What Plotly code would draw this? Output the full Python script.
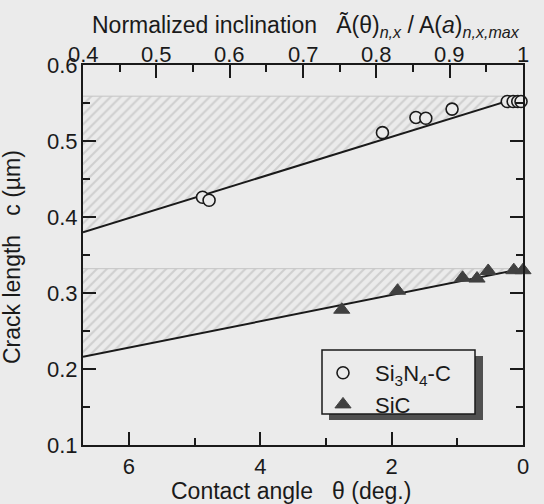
import plotly.graph_objects as go

# Si3N4-C: contact angle (deg.) and crack length (µm)
theta_si3n4 = [4.88, 4.78, 2.14, 1.63, 1.48, 1.08, 0.24, 0.15, 0.08, 0.03]
c_si3n4 = [0.426, 0.422, 0.511, 0.531, 0.530, 0.542, 0.552, 0.552, 0.552, 0.552]

# SiC: contact angle (deg.) and crack length (µm)
theta_sic = [2.76, 1.91, 0.92, 0.70, 0.53, 0.14, 0.0]
c_sic = [0.278, 0.303, 0.320, 0.319, 0.329, 0.330, 0.330]

# linear fits evaluated at both ends of the angle axis
fit_theta = [6.7, 0.0]
fit_si3n4 = [0.380, 0.559]
fit_sic = [0.216, 0.332]

theta_ticks = [6, 4, 2, 0]
theta_labels = ["6", "4", "2", "0"]
incl_ticks = [0.4, 0.5, 0.6, 0.7, 0.8, 0.9, 1.0]
incl_labels = ["0.4", "0.5", "0.6", "0.7", "0.8", "0.9", "1"]
c_ticks = [0.1, 0.2, 0.3, 0.4, 0.5, 0.6]
c_labels = ["0.1", "0.2", "0.3", "0.4", "0.5", "0.6"]

BG = "#ebebeb"
INK = "#1a1a1a"
FONT = "Liberation Sans, Arial, sans-serif"

W, H = 544, 504
ML, MR, MT, MB = 83, 21, 65, 59
PW, PH = W - ML - MR, H - MT - MB


def px_x(p):
    return (p - ML) / PW


def px_y(p):
    return (H - MB - p) / PH


fig = go.Figure()

# hatched bands between each fit line and its value at zero angle
for fit_vals in (fit_sic, fit_si3n4):
    top = max(fit_vals)
    fig.add_trace(go.Scatter(
        x=fit_theta, y=[top, top], mode="lines",
        line=dict(color="#c4c4c4", width=1),
        showlegend=False, hoverinfo="skip"))
    fig.add_trace(go.Scatter(
        x=fit_theta, y=fit_vals, mode="lines",
        line=dict(color=INK, width=2),
        fill="tonexty", fillcolor=BG,
        fillpattern=dict(shape="/", fgcolor="#b3b3b3", bgcolor=BG,
                         size=7, solidity=0.3),
        showlegend=False, hoverinfo="skip"))

fig.add_trace(go.Scatter(
    x=theta_si3n4, y=c_si3n4, mode="markers",
    name="Si<sub>3</sub>N<sub>4</sub>-C",
    marker=dict(symbol="circle", size=12, color=BG,
                line=dict(color=INK, width=1.6)),
    cliponaxis=False))

fig.add_trace(go.Scatter(
    x=theta_sic, y=c_sic, mode="markers", name="SiC",
    marker=dict(symbol="triangle-up", size=14, color="#404040",
                line=dict(color="#404040", width=1)),
    cliponaxis=False))

# top axis carrier
fig.add_trace(go.Scatter(
    x=[incl_ticks[0], incl_ticks[-1]], y=[None, None], xaxis="x2",
    mode="lines", showlegend=False, hoverinfo="skip"))

tickfont = dict(family=FONT, size=22, color=INK)
common = dict(showline=True, linecolor=INK, linewidth=2, ticks="inside",
              tickcolor=INK, tickwidth=1.5, ticklen=13, showgrid=False,
              zeroline=False, tickfont=tickfont, automargin=False)

# top-axis tick labels, placed on the inclination scale
top_labels = [
    dict(text=lab, xref="x2", yref="paper", x=val, y=px_y(54),
         xanchor="center", yanchor="middle", showarrow=False, font=tickfont)
    for val, lab in zip(incl_ticks, incl_labels)
]

fig.update_layout(
    width=W, height=H,
    margin=dict(l=ML, r=MR, t=MT, b=MB),
    paper_bgcolor=BG, plot_bgcolor=BG,
    font=dict(family=FONT, color=INK),
    xaxis=dict(range=[6.7, 0], tickvals=theta_ticks, ticktext=theta_labels,
               minor=dict(dtick=1, tick0=0, ticks="inside", ticklen=7,
                          tickcolor=INK, tickwidth=1.5),
               ticklabelstandoff=1, **common),
    xaxis2=dict(range=[0.4, 1.0], overlaying="x", side="top",
                tickvals=incl_ticks, showticklabels=False,
                minor=dict(dtick=0.05, tick0=0.4, ticks="inside", ticklen=7,
                           tickcolor=INK, tickwidth=1.5),
                **common),
    yaxis=dict(range=[0.1, 0.6], tickvals=c_ticks, ticktext=c_labels,
               mirror="ticks",
               minor=dict(dtick=0.05, tick0=0.1, ticks="inside", ticklen=7,
                          tickcolor=INK, tickwidth=1.5),
               ticklabelstandoff=-1, **common),
    legend=dict(x=px_x(311), y=px_y(352), xanchor="left", yanchor="top",
                bgcolor="rgba(0,0,0,0)", borderwidth=0, itemwidth=54,
                traceorder="normal",
                font=dict(family=FONT, size=22, color=INK),
                tracegroupgap=0),
    shapes=[
        dict(type="rect", xref="paper", yref="paper",
             x0=px_x(329), x1=px_x(483), y0=px_y(356), y1=px_y(420),
             fillcolor="#505050", line=dict(width=0), layer="above"),
        dict(type="rect", xref="paper", yref="paper",
             x0=px_x(322), x1=px_x(475), y0=px_y(350), y1=px_y(414),
             fillcolor=BG, line=dict(color=INK, width=1.5), layer="above"),
    ],
    annotations=top_labels + [
        dict(text="Normalized inclination\u00a0\u00a0\u00a0"
                  "\u00c3(\u03b8)<sub><i>n,x</i></sub> / "
                  "A(<i>a</i>)<sub><i>n,x,max</i></sub>",
             xref="paper", yref="paper", x=px_x(305.5), y=px_y(27),
             xanchor="center", yanchor="middle", showarrow=False,
             font=dict(family=FONT, size=23, color=INK)),
        dict(text="Contact angle\u00a0\u00a0\u00a0\u03b8 (deg.)",
             xref="paper", yref="paper", x=px_x(291), y=px_y(491),
             xanchor="center", yanchor="middle", showarrow=False,
             font=dict(family=FONT, size=23, color=INK)),
        dict(text="Crack length\u00a0\u00a0\u00a0c (\u00b5m)", textangle=-90,
             xref="paper", yref="paper", x=px_x(12), y=px_y(257),
             xanchor="center", yanchor="middle", showarrow=False,
             font=dict(family=FONT, size=23, color=INK)),
    ],
)

fig.write_html("out.html")
